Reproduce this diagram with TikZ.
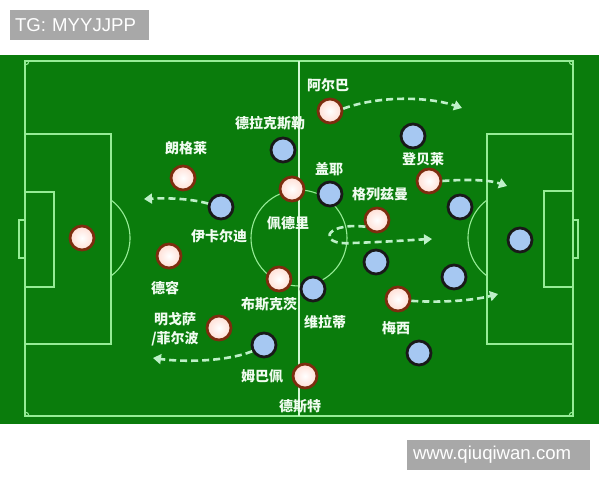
\documentclass[tikz,border=0pt]{standalone}
\usepackage{fontspec}
\setmainfont{Liberation Sans}
\newfontfamily\cjk{Noto Sans CJK SC}
\usetikzlibrary{arrows.meta}
\definecolor{pitch}{RGB}{10,124,12}
\definecolor{chalk}{RGB}{150,236,150}
\definecolor{halfchalk}{RGB}{210,248,210}
\definecolor{runline}{RGB}{190,240,200}
\definecolor{rimred}{RGB}{125,45,15}
\definecolor{skinpink}{RGB}{255,222,212}
\definecolor{skyblue}{RGB}{166,200,242}
\definecolor{rimdark}{RGB}{25,25,25}
\definecolor{namewhite}{RGB}{240,252,240}
\definecolor{wmgray}{RGB}{168,168,168}

\begin{document}
\begin{tikzpicture}
  [x=1pt,y=-1pt,
   pitchline/.style={draw=chalk,line width=1.1pt},
   home/.style={circle,minimum size=24pt,inner sep=0pt,line width=2.8pt,draw=rimred,inner color=white,outer color=skinpink},
   away/.style={circle,minimum size=24pt,inner sep=0pt,line width=2.8pt,draw=rimdark,fill=skyblue},
   plabel/.style={text=namewhite,font=\cjk\bfseries\fontsize{14}{19}\selectfont,inner sep=0pt,align=center},
   run/.style={draw=runline,line width=2.6pt,dash pattern=on 7pt off 4pt,-{Triangle[length=8pt,width=10pt]}},
   wmbox/.style={fill=wmgray,text=white,font=\fontsize{18.6}{20}\selectfont,minimum height=30pt,align=left}]
  \useasboundingbox (0,0) rectangle (600,480);

  % pitch
  \fill[pitch] (0,55) rectangle (599,424);
  \draw[pitchline] (25,61) rectangle (573,416);
  \draw[pitchline] (25,134) rectangle (111,344);
  \draw[pitchline] (25,192) rectangle (54,287);
  \draw[pitchline] (19,220) rectangle (25,258);
  \draw[pitchline] (487,134) rectangle (573,344);
  \draw[pitchline] (544,191) rectangle (573,287);
  \draw[pitchline] (573,220) rectangle (578,258);
  \draw[pitchline] (111,200) arc[start angle=53.13,end angle=-53.13,radius=47.5pt];
  \draw[pitchline] (487,200) arc[start angle=126.87,end angle=233.13,radius=47.5pt];
  \draw[pitchline] (299,238) circle[radius=48pt];
  \draw[pitchline] (25,65) arc[start angle=-90,end angle=0,radius=4pt];
  \draw[pitchline] (569,61) arc[start angle=180,end angle=270,radius=4pt];
  \draw[pitchline] (29,416) arc[start angle=0,end angle=90,radius=4pt];
  \draw[pitchline] (573,412) arc[start angle=90,end angle=180,radius=4pt];
  \draw[draw=halfchalk,line width=2pt] (299,61) -- (299,416);

  % white team
  \node[home] (w1) at (82,238) {};
  \node[home] (w2) at (183,178) {};
  \node[home] (w3) at (169,256) {};
  \node[home] (w4) at (219,328) {};
  \node[home] (w5) at (292,189) {};
  \node[home] (w6) at (279,279) {};
  \node[home] (w7) at (330,111) {};
  \node[home] (w8) at (429,181) {};
  \node[home] (w9) at (377,220) {};
  \node[home] (w10) at (398,299) {};
  \node[home] (w11) at (305,376) {};

  % blue team
  \node[away] (b1) at (283,150) {};
  \node[away] (b2) at (221,207) {};
  \node[away] (b3) at (330,194) {};
  \node[away] (b4) at (413,136) {};
  \node[away] (b5) at (460,207) {};
  \node[away] (b6) at (520,240) {};
  \node[away] (b7) at (376,262) {};
  \node[away] (b8) at (454,277) {};
  \node[away] (b9) at (313,289) {};
  \node[away] (b10) at (419,353) {};
  \node[away] (b11) at (264,345) {};

  % runs
  \coordinate (a1) at (462,108);
  \coordinate (a2) at (144,199);
  \coordinate (a3) at (507,186);
  \coordinate (a4) at (432,239);
  \coordinate (a5) at (498,294);
  \coordinate (a6) at (153,358);
  \draw[run] (w7.10) .. controls (380,95) and (430,97) .. (a1);
  \draw[run] (b2.165) .. controls (188,198) and (165,198) .. (a2);
  \draw[run] (w8.0) .. controls (468,179) and (490,180) .. (a3);
  \draw[run] (w9.210) .. controls (322,222) and (318,246) .. (352,243) .. controls (385,242) and (410,240) .. (a4);
  \draw[run] (w10.352) .. controls (445,303) and (475,300) .. (a5);
  \draw[run] (b11.208) .. controls (225,362) and (182,362) .. (a6);

  % names
  \node[plabel] (lw7) at (328,85) {阿尔巴};
  \node[plabel] (lb1) at (270,123) {德拉克斯勒};
  \node[plabel] (lw2) at (186,148) {朗格莱};
  \node[plabel] (lb3) at (329,169) {盖耶};
  \node[plabel] (lw8) at (423,159) {登贝莱};
  \node[plabel] (lw9) at (380,194) {格列兹曼};
  \node[plabel] (lw5) at (288,223) {佩德里};
  \node[plabel] (lb2) at (219,236) {伊卡尔迪};
  \node[plabel] (lw3) at (165,288) {德容};
  \node[plabel] (lw6) at (269,304) {布斯克茨};
  \node[plabel] (lb9) at (325,322) {维拉蒂};
  \node[plabel] (lw10) at (396,328) {梅西};
  \node[plabel] (lw4) at (175,329) {明戈萨\\/菲尔波};
  \node[plabel] (lb11) at (262,376) {姆巴佩};
  \node[plabel] (lw11) at (300,406) {德斯特};

  % watermarks
  \node[wmbox,text width=129pt,inner xsep=5pt] (tg) at (79.5,25) {TG: MYYJJPP};
  \node[wmbox,text width=171pt,inner xsep=6pt] (site) at (498.5,455) {www.qiuqiwan.com};

\end{tikzpicture}
\end{document}
